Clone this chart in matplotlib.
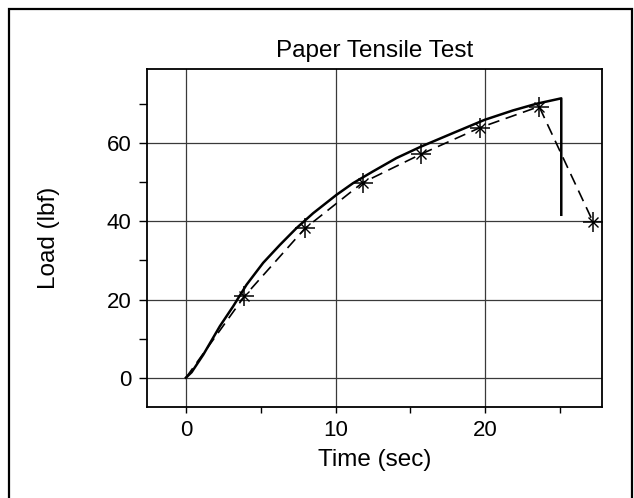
import matplotlib
matplotlib.use("Agg")
from matplotlib import pyplot as plt
from matplotlib.patches import Rectangle
from matplotlib.ticker import MultipleLocator

# measured load trace (solid)
time_meas = [0.0, 0.38, 1.16, 2.27, 3.16, 4.05, 5.16, 6.28, 7.39, 8.5, 10.06,
             11.17, 12.5, 14.06, 15.68, 17.84, 19.96, 21.85, 23.41, 25.08, 25.08]
load_meas = [0.0, 1.4, 5.9, 13.2, 18.3, 23.8, 29.4, 34.0, 38.3, 42.1, 46.8,
             49.8, 52.8, 56.2, 59.1, 62.6, 66.0, 68.4, 70.1, 71.5, 41.7]

# sampled points (dashed with markers)
time_samp = [0.0, 3.9, 7.95, 11.8, 15.7, 19.65, 23.6, 27.2]
load_samp = [0.0, 20.8, 38.2, 49.9, 57.2, 64.0, 69.4, 39.9]

plt.rcParams["font.family"] = ["Liberation Sans", "DejaVu Sans"]

fig = plt.figure(figsize=(6.34, 4.98), dpi=100)
ax = fig.add_axes([0.2319, 0.1827, 0.7176, 0.6787])

ax.plot(time_meas, load_meas, color="black", lw=1.8, zorder=3)
ax.plot(time_samp, load_samp, color="black", lw=1.2, dashes=(7, 4), zorder=3)
ax.plot(time_samp[1:], load_samp[1:], ls="none", marker="+", ms=15, mew=1.1,
        color="black", zorder=4)
ax.plot(time_samp[1:], load_samp[1:], ls="none", marker="x", ms=7, mew=1.0,
        color="black", zorder=4)

ax.set_xlim(-2.6, 27.8)
ax.set_ylim(-7.5, 79)
ax.xaxis.set_major_locator(MultipleLocator(10))
ax.xaxis.set_minor_locator(MultipleLocator(5))
ax.yaxis.set_major_locator(MultipleLocator(20))
ax.yaxis.set_minor_locator(MultipleLocator(10))
ax.grid(True, which="major", color="#3a3a3a", lw=0.9)
ax.set_axisbelow(True)

ax.tick_params(which="both", direction="out", width=1.0, labelsize=16, colors="black")
ax.tick_params(axis="y", which="both", length=6, pad=5)
ax.tick_params(axis="x", which="both", length=4, pad=5)
for s in ax.spines.values():
    s.set_linewidth(1.3)

ax.set_title("Paper Tensile Test", fontsize=17.5, pad=9)
ax.set_xlabel("Time (sec)", fontsize=17.5, labelpad=6)
ax.set_ylabel("Load (lbf)", fontsize=17.5, labelpad=34)

# outer frame around the whole figure
fig.patches.append(Rectangle((0.0142, -0.02), 0.9826, 1.002, transform=fig.transFigure,
                             fill=False, lw=1.6, edgecolor="black"))

fig.savefig("out.png", dpi=100)
